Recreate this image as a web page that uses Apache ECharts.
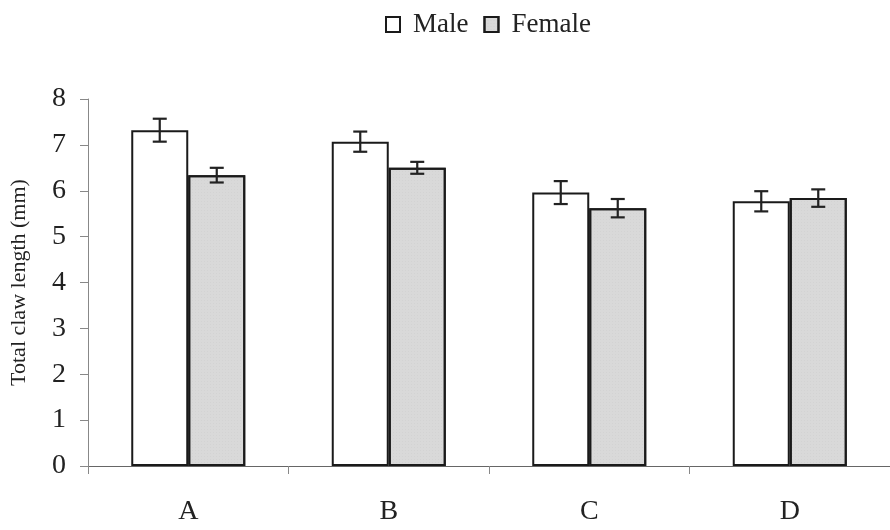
<!DOCTYPE html>
<html>
<head>
<meta charset="utf-8">
<script src="https://cdn.jsdelivr.net/npm/echarts@6/dist/echarts.min.js"></script>
<style>html,body{margin:0;padding:0;background:#fff}#c{width:890px;height:530px}</style>
</head>
<body>
<div id="c"></div>
<script>
var categories = ['A', 'B', 'C', 'D'];
var maleValues = [7.32, 7.07, 5.96, 5.77];
var maleErrors = [0.25, 0.22, 0.25, 0.22];
var femaleValues = [6.34, 6.50, 5.62, 5.84];
var femaleErrors = [0.16, 0.13, 0.20, 0.19];
var yTicks = [0, 1, 2, 3, 4, 5, 6, 7, 8];

var FONT = '"Liberation Serif", "Times New Roman", serif';
var chart = echarts.init(document.getElementById('c'));

function errData(vals, errs) {
  return vals.map(function (v, i) { return [i, v - errs[i], v + errs[i]]; });
}
function errSeries(name, vals, errs, side) {
  return {
    type: 'custom',
    name: name + ' err',
    data: errData(vals, errs),
    z: 10,
    silent: true,
    renderItem: function (params, api) {
      var idx = api.value(0);
      var lo = api.coord([idx, api.value(1)]);
      var hi = api.coord([idx, api.value(2)]);
      var barW = 57;
      var x = lo[0] + side * barW / 2;
      var cap = 7;
      var st = { stroke: '#222', lineWidth: 2.2 };
      return {
        type: 'group',
        children: [
          { type: 'line', shape: { x1: x, y1: lo[1], x2: x, y2: hi[1] }, style: st },
          { type: 'line', shape: { x1: x - cap, y1: lo[1], x2: x + cap, y2: lo[1] }, style: st },
          { type: 'line', shape: { x1: x - cap, y1: hi[1], x2: x + cap, y2: hi[1] }, style: st }
        ]
      };
    }
  };
}

chart.setOption({
  animation: false,
  backgroundColor: '#fff',
  textStyle: { fontFamily: FONT },
  legend: {
    data: ['Male', 'Female'],
    top: 6,
    left: 380,
    icon: 'rect',
    itemWidth: 14,
    itemHeight: 15,
    itemGap: 15,
    textStyle: { fontFamily: FONT, fontSize: 27, color: '#222', padding: [0, 0, 0, 8] }
  },
  grid: { left: 88, right: 0, top: 99, bottom: 64 },
  xAxis: {
    type: 'category',
    data: categories,
    axisLine: { lineStyle: { color: '#666', width: 1 } },
    axisTick: { show: true, length: 8, lineStyle: { color: '#888' } },
    axisLabel: { fontFamily: FONT, fontSize: 28, color: '#222', margin: 32 }
  },
  yAxis: {
    type: 'value',
    min: yTicks[0],
    max: yTicks[yTicks.length - 1],
    interval: 1,
    name: 'Total claw length (mm)',
    nameLocation: 'middle',
    nameGap: 58,
    nameTextStyle: { fontFamily: FONT, fontSize: 22, color: '#222' },
    splitLine: { show: false },
    axisLine: { show: true, lineStyle: { color: '#888', width: 1 } },
    axisTick: { show: true, length: 8, lineStyle: { color: '#888' } },
    axisLabel: { fontFamily: FONT, fontSize: 28, color: '#222', margin: 22 }
  },
  series: [
    {
      name: 'Male', type: 'bar', data: maleValues, barWidth: 57, barGap: '0%',
      itemStyle: { color: '#ffffff', borderColor: '#1a1a1a', borderWidth: 2 }
    },
    {
      name: 'Female', type: 'bar', data: femaleValues, barWidth: 57, barGap: '0%',
      itemStyle: { color: '#d9d9d9', borderColor: '#1a1a1a', borderWidth: 2,
        decal: { symbol: 'rect', symbolSize: 0.5, dashArrayX: [1, 2], dashArrayY: [1, 2], color: 'rgba(150,150,150,0.35)' } }
    },
    errSeries('Male', maleValues, maleErrors, -1),
    errSeries('Female', femaleValues, femaleErrors, 1)
  ]
});
</script>
</body>
</html>
